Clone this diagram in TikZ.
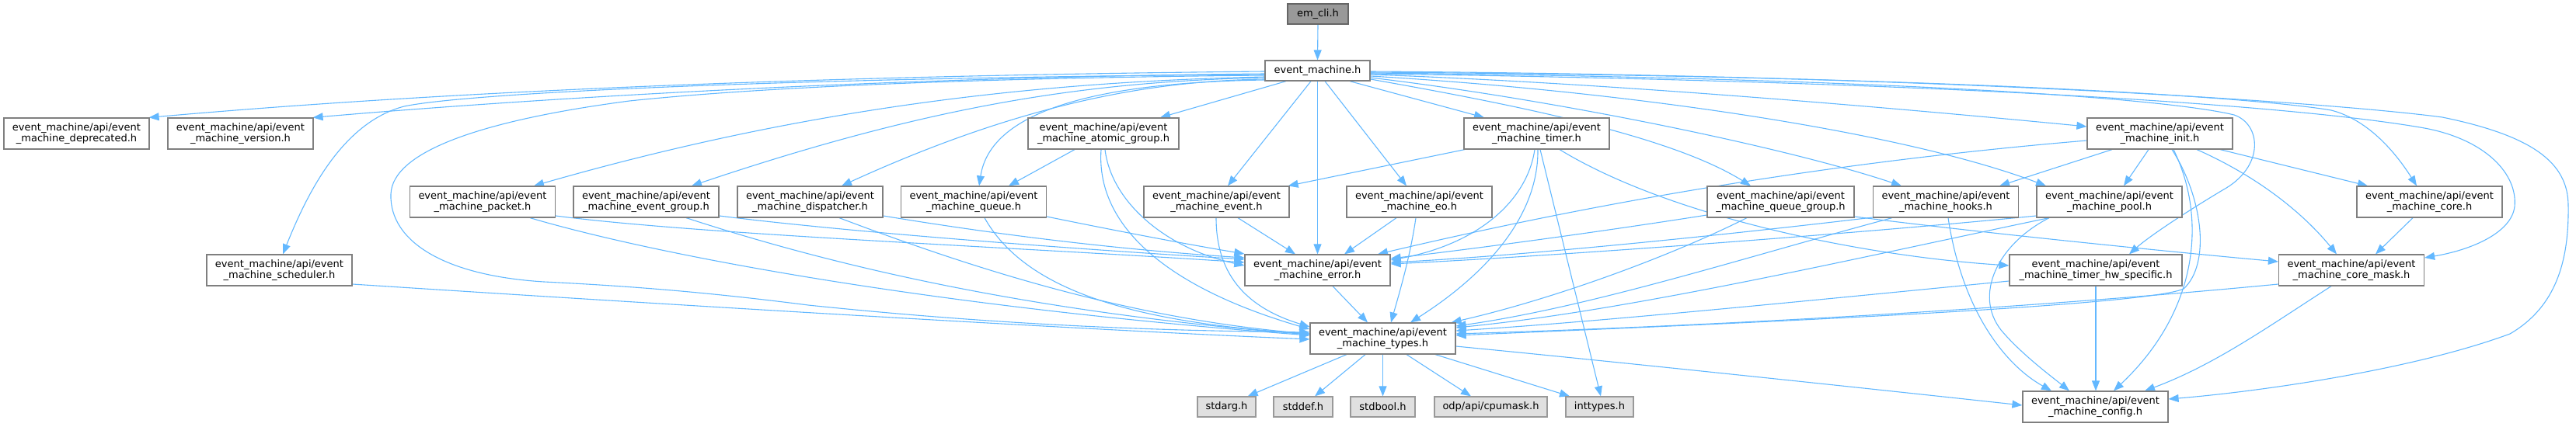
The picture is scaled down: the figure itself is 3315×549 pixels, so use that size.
\documentclass[tikz,border=0pt]{standalone}
\usepackage{fontspec}
\setmainfont{DejaVu Sans}
\usetikzlibrary{arrows.meta}
\definecolor{edgec}{HTML}{63B8FF}
\definecolor{boxc}{HTML}{7F7F7F}
\definecolor{extc}{HTML}{999999}
\definecolor{extfill}{HTML}{E0E0E0}
\definecolor{rootfill}{HTML}{999999}
\definecolor{rootc}{HTML}{666666}
\newcommand\nfont{\fontsize{13pt}{14.7pt}\selectfont}
\pgfdeclarelayer{bg}
\pgfsetlayers{bg,main}
\tikzset{
 fbox/.style={draw=boxc, line width=1.2pt, fill=white, inner sep=0pt, minimum width=187pt, minimum height=40pt, align=center, font=\nfont, text=black},
 ibox/.style={fbox, minimum height=26pt},
 sbox/.style={fbox, draw=extc, fill=extfill, minimum height=26pt},
 rbox/.style={fbox, draw=rootc, fill=rootfill, minimum height=26pt},
 conn/.style={draw=edgec, line width=1.1pt, -{Triangle[length=13pt,width=10pt]}},
}
\begin{document}
\begin{tikzpicture}[x=1pt,y=-1pt]
\useasboundingbox (0,0) rectangle (3315,549);
% nodes
\node[rbox, minimum width=78pt] (emcli) at (1696,18) {em\_cli.h};
\node[ibox, minimum width=135pt] (em) at (1695.5,91) {event\_machine.h};
\node[fbox] (dep) at (98.5,172) {event\_machine/api/event\\\_machine\_deprecated.h};
\node[fbox] (ver) at (309.5,172) {event\_machine/api/event\\\_machine\_version.h};
\node[fbox, minimum width=194pt] (atomic) at (1420,172) {event\_machine/api/event\\\_machine\_atomic\_group.h};
\node[fbox] (timer) at (1977.5,172) {event\_machine/api/event\\\_machine\_timer.h};
\node[fbox] (init) at (2779.5,172) {event\_machine/api/event\\\_machine\_init.h};
\node[fbox] (packet) at (621,260) {event\_machine/api/event\\\_machine\_packet.h};
\node[fbox] (evgroup) at (831.5,260) {event\_machine/api/event\\\_machine\_event\_group.h};
\node[fbox] (disp) at (1042.5,260) {event\_machine/api/event\\\_machine\_dispatcher.h};
\node[fbox] (queue) at (1253,260) {event\_machine/api/event\\\_machine\_queue.h};
\node[fbox] (event) at (1565.5,260) {event\_machine/api/event\\\_machine\_event.h};
\node[fbox] (eo) at (1826.5,260) {event\_machine/api/event\\\_machine\_eo.h};
\node[fbox, minimum width=189pt] (qgroup) at (2291.5,260) {event\_machine/api/event\\\_machine\_queue\_group.h};
\node[fbox] (hooks) at (2504,260) {event\_machine/api/event\\\_machine\_hooks.h};
\node[fbox] (pool) at (2714.5,260) {event\_machine/api/event\\\_machine\_pool.h};
\node[fbox] (core) at (3126.5,260) {event\_machine/api/event\\\_machine\_core.h};
\node[fbox] (sched) at (359.5,348) {event\_machine/api/event\\\_machine\_scheduler.h};
\node[fbox] (error) at (1695.5,348) {event\_machine/api/event\\\_machine\_error.h};
\node[fbox, minimum width=222pt] (timerhw) at (2697,348) {event\_machine/api/event\\\_machine\_timer\_hw\_specific.h};
\node[fbox] (coremask) at (3026,348) {event\_machine/api/event\\\_machine\_core\_mask.h};
\node[fbox] (types) at (1779.5,436) {event\_machine/api/event\\\_machine\_types.h};
\node[sbox, minimum width=75pt] (stdarg) at (1578.5,524) {stdarg.h};
\node[sbox, minimum width=76pt] (stddef) at (1677,524) {stddef.h};
\node[sbox, minimum width=83pt] (stdbool) at (1779.5,524) {stdbool.h};
\node[sbox, minimum width=145pt] (cpumask) at (1918.5,524) {odp/api/cpumask.h};
\node[sbox, minimum width=87pt] (inttypes) at (2058.5,524) {inttypes.h};
\node[fbox] (config) at (2696.5,524) {event\_machine/api/event\\\_machine\_config.h};
% edges
\begin{pgfonlayer}{bg}
\draw[conn] (emcli.south) -- (em.north);
% from event_machine.h, left side
\draw[conn] ([yshift=-1pt]em.west) .. controls (1100,97) and (600,115) .. ([xshift=-1pt]dep.north east);
\draw[conn] ([yshift=-4pt]em.west) .. controls (1100,100) and (650,130) .. ([xshift=-1pt]ver.north east);
\draw[conn] ([yshift=-5pt]em.west) .. controls (1000,100) and (600,120) .. (520,137) .. controls (440,158) and (395,250) .. ([xshift=4.5pt]sched.north);
\draw[conn] ([yshift=-6pt]em.west) .. controls (1300,100) and (1000,110) .. (810,130) .. controls (620,155) and (505,195) .. (503,250) .. controls (501,310) and (570,355) .. (700,363) .. controls (800,368) and (900,375) .. (1040,393) .. controls (1300,420) and (1500,426) .. ([yshift=8pt]types.west);
\draw[conn] ([yshift=-8pt]em.west) .. controls (1350,105) and (1050,135) .. ([xshift=66pt]packet.north);
\draw[conn] ([yshift=-9pt]em.west) .. controls (1400,105) and (1200,135) .. ([xshift=58.5pt]evgroup.north);
\draw[conn] ([yshift=-11pt]em.west) .. controls (1500,104) and (1333,125) .. ([xshift=40.5pt]disp.north);
\draw[conn] ([yshift=-12pt]em.west) .. controls (1420,106) and (1275,140) .. ([xshift=7pt]queue.north);
% from event_machine.h, bottom
\draw[conn] ([xshift=-40.5pt]em.south) -- ([xshift=73pt]atomic.north);
\draw[conn] ([xshift=-8.5pt]em.south) -- ([xshift=14.5pt]event.north);
\draw[conn] (em.south) -- (error.north);
\draw[conn] ([xshift=9.5pt]em.south) -- ([xshift=-16.5pt]eo.north);
\draw[conn] ([xshift=41.5pt]em.south) -- ([xshift=-67.5pt]timer.north);
% from event_machine.h, right side
\draw[conn] ([yshift=-11pt]em.east) .. controls (1950,135) and (2150,175) .. ([xshift=-38.5pt]qgroup.north);
\draw[conn] ([yshift=-9pt]em.east) .. controls (2000,128) and (2300,190) .. ([xshift=-57pt]hooks.north);
\draw[conn] ([yshift=-7pt]em.east) .. controls (2100,118) and (2450,170) .. ([xshift=-81.5pt]pool.north);
\draw[conn] ([yshift=-5pt]em.east) .. controls (2100,108) and (2500,145) .. ([yshift=9pt]init.west);
\draw[conn] ([yshift=-3pt]em.east) .. controls (2400,100) and (2780,125) .. (2875,148) .. controls (2910,160) and (2915,215) .. (2860,245) .. controls (2810,275) and (2765,305) .. ([xshift=43pt]timerhw.north);
\draw[conn] ([yshift=-2pt]em.east) .. controls (2500,98) and (2900,125) .. (3000,142) .. controls (3050,155) and (3085,200) .. ([xshift=-16.5pt]core.north);
\draw[conn] ([yshift=-4pt]em.east) .. controls (2500,105) and (2950,135) .. (3120,165) .. controls (3200,180) and (3240,225) .. (3236,266) .. controls (3232,300) and (3180,322) .. ([yshift=16pt]coremask.east);
\draw[conn] ([yshift=-1pt]em.east) .. controls (2500,97) and (3000,132) .. (3143,151) .. controls (3260,175) and (3305,210) .. (3305,265) .. controls (3306,335) and (3290,395) .. (3230,430) .. controls (3100,478) and (2900,505) .. ([yshift=10pt]config.east);
% scheduler
\draw[conn] ([yshift=-18pt]sched.east) .. controls (900,395) and (1400,425) .. ([yshift=-1pt]types.west);
% packet
\draw[conn] ([yshift=-18pt]packet.east) .. controls (900,302) and (1300,318) .. ([yshift=10pt]error.west);
\draw[conn] ([xshift=61pt]packet.south) .. controls (850,330) and (1200,395) .. ([yshift=4pt]types.west);
% event group
\draw[conn] ([yshift=-18pt]evgroup.east) .. controls (1100,300) and (1400,322) .. ([yshift=14pt]error.west);
\draw[conn] ([xshift=51.5pt]evgroup.south) .. controls (1050,335) and (1300,400) .. ([yshift=5pt]types.west);
% dispatcher
\draw[conn] ([yshift=-18pt]disp.east) .. controls (1300,305) and (1450,322) .. ([yshift=16pt]error.west);
\draw[conn] ([xshift=37.5pt]disp.south) .. controls (1250,345) and (1450,410) .. ([yshift=6pt]types.west);
% queue
\draw[conn] ([yshift=-19pt]queue.east) .. controls (1450,300) and (1530,315) .. ([yshift=21pt]error.west);
\draw[conn] ([xshift=14pt]queue.south) .. controls (1320,375) and (1460,415) .. ([yshift=6pt]types.west);
% atomic group
\draw[conn] ([xshift=-37pt]atomic.south) -- ([xshift=45pt]queue.north);
\draw[conn] ([xshift=2pt]atomic.south) .. controls (1430,260) and (1500,320) .. ([yshift=6pt]error.west);
\draw[conn] ([xshift=-3pt]atomic.south) .. controls (1410,290) and (1500,370) .. ([yshift=12pt]types.west);
% event
\draw[conn] ([xshift=27.5pt]event.south) -- ([xshift=-28.5pt]error.north);
\draw[conn] ([xshift=-0.5pt]event.south) .. controls (1565,350) and (1600,395) .. ([yshift=15pt]types.west);
% eo
\draw[conn] ([xshift=-29.5pt]eo.south) -- ([xshift=34.5pt]error.north);
\draw[conn] ([xshift=-4.5pt]eo.south) .. controls (1815,330) and (1800,380) .. ([xshift=10.5pt]types.north);
% timer
\draw[conn] ([xshift=-92.5pt]timer.south) -- ([xshift=-2pt]event.north east);
\draw[conn] ([xshift=-2.5pt]timer.south) .. controls (1965,260) and (1900,315) .. ([yshift=13pt]error.east);
\draw[conn] ([xshift=1.5pt]timer.south) .. controls (1980,280) and (1910,355) .. ([xshift=35.5pt]types.north);
\draw[conn] ([xshift=4.5pt]timer.south) -- ([xshift=1.5pt]inttypes.north);
\draw[conn] ([xshift=29.5pt]timer.south) .. controls (2150,280) and (2400,330) .. ([yshift=6pt]timerhw.west);
% error
\draw[conn] ([xshift=19.5pt]error.south) -- ([xshift=-19.5pt]types.north);
% queue group
\draw[conn] ([yshift=-17pt]qgroup.west) .. controls (2050,300) and (1900,320) .. ([yshift=15pt]error.east);
\draw[conn] ([xshift=-43.5pt]qgroup.south) .. controls (2150,330) and (2000,385) .. ([xshift=-6pt]types.north east);
\draw[conn] ([yshift=-19pt]qgroup.east) .. controls (2550,300) and (2800,325) .. ([yshift=11pt]coremask.west);
% hooks
\draw[conn] ([yshift=-20pt]hooks.west) .. controls (2200,305) and (1950,330) .. ([yshift=10pt]error.east);
\draw[conn] ([xshift=-69pt]hooks.south) .. controls (2250,330) and (2050,395) .. ([yshift=16pt]types.east);
\draw[conn] ([xshift=3pt]hooks.south) .. controls (2525,400) and (2580,470) .. ([xshift=-56.5pt]config.north);
% pool
\draw[conn] ([yshift=-18pt]pool.west) .. controls (2400,300) and (2000,330) .. ([yshift=8pt]error.east);
\draw[conn] ([xshift=-77.5pt]pool.south) .. controls (2400,330) and (2100,400) .. ([yshift=14pt]types.east);
\draw[conn] ([xshift=-77.5pt]pool.south) .. controls (2570,315) and (2540,380) .. (2575,425) .. controls (2600,455) and (2640,485) .. ([xshift=-33.5pt]config.north);
% init
\draw[conn] ([yshift=-9pt]init.west) .. controls (2400,205) and (2100,250) .. ([xshift=77.5pt]error.north);
\draw[conn] ([xshift=-61.5pt]init.south) -- ([xshift=-25pt]hooks.north east);
\draw[conn] ([xshift=-14.5pt]init.south) -- ([xshift=18.5pt]pool.north);
\draw[conn] ([xshift=77.5pt]init.south) -- ([xshift=-79.5pt]core.north);
\draw[conn] ([xshift=47.5pt]init.south) .. controls (2900,225) and (2960,270) .. ([xshift=-19pt]coremask.north);
\draw[conn] ([xshift=15.5pt]init.south) .. controls (2835,255) and (2845,340) .. (2810,372) .. controls (2760,395) and (2200,418) .. ([yshift=4pt]types.east);
\draw[conn] ([xshift=17.5pt]init.south) .. controls (2840,280) and (2830,400) .. ([xshift=23.5pt]config.north);
% timer hw specific
\draw[conn] ([yshift=-14pt]timerhw.west) .. controls (2300,390) and (2050,415) .. ([yshift=10pt]types.east);
\draw[conn] (timerhw.south) -- ([xshift=0.5pt]config.north);
% core
\draw[conn] ([xshift=-21.5pt]core.south) -- ([xshift=31pt]coremask.north);
% core mask
\draw[conn] ([yshift=-18pt]coremask.west) .. controls (2600,398) and (2200,420) .. ([yshift=6pt]types.east);
\draw[conn] ([xshift=-26pt]coremask.south) .. controls (2920,420) and (2850,470) .. ([xshift=63.5pt]config.north);
% types
\draw[conn] ([yshift=-10pt]types.east) .. controls (2100,468) and (2400,500) .. ([yshift=2pt]config.west);
\draw[conn] ([xshift=-46.5pt]types.south) -- ([xshift=-11pt]stdarg.north east);
\draw[conn] ([xshift=-22.5pt]types.south) -- ([xshift=15pt]stddef.north);
\draw[conn] (types.south) -- (stdbool.north);
\draw[conn] ([xshift=30.5pt]types.south) -- ([xshift=-25.5pt]cpumask.north);
\draw[conn] ([xshift=67.5pt]types.south) -- ([xshift=-38.5pt]inttypes.north);
\end{pgfonlayer}
\end{tikzpicture}
\end{document}
